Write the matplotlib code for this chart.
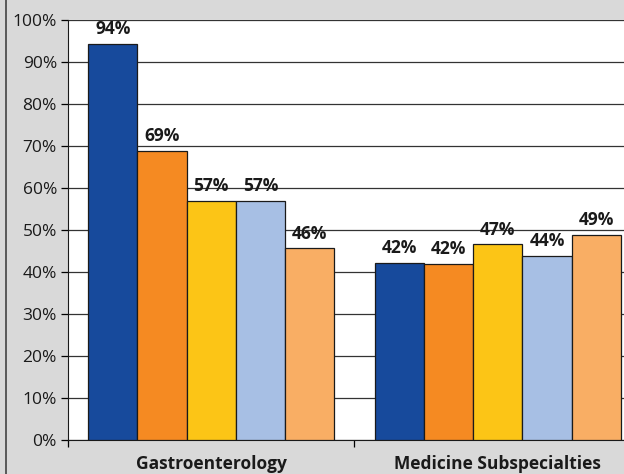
import matplotlib.pyplot as plt
from matplotlib.lines import Line2D
import numpy as np

plt.rcParams['font.family'] = ['Open Sans', 'DejaVu Sans']

categories = ['Gastroenterology', 'Medicine Subspecialties']
s1 = [94.3, 42.2]
s2 = [68.9, 42.0]
s3 = [57.0, 46.6]
s4 = [57.0, 43.9]
s5 = [45.7, 48.9]
colors = ['#174a9c', '#f58a22', '#fcc516', '#a7bfe4', '#f9ae64']
yticks = np.arange(0, 101, 10)

fig = plt.figure(figsize=(6.24, 4.74), dpi=100, facecolor='#d9d9d9')
ax = fig.add_axes([68 / 624, 34 / 474, 573 / 624, 420 / 474])
ax.set_facecolor('white')

x = np.arange(len(categories))
w = 0.172
for i, (vals, c) in enumerate(zip([s1, s2, s3, s4, s5], colors)):
    bars = ax.bar(x + (i - 2) * w, vals, w, color=c, edgecolor='#1a1a1a',
                  linewidth=0.9, zorder=3)
    for b, v in zip(bars, vals):
        ax.annotate(f'{v:.0f}%', (b.get_x() + b.get_width() / 2, v),
                    xytext=(0, 4), textcoords='offset points',
                    ha='center', va='bottom', fontsize=12.5, fontweight='bold',
                    color='#1a1a1a')

ax.set_xlim(-0.5, 1.5)
ax.set_ylim(0, 100)
ax.set_yticks(yticks)
ax.set_yticklabels([f'{t}%' for t in yticks], fontsize=12.5, color='#1a1a1a')
ax.yaxis.grid(True, color='#333333', linewidth=0.9, zorder=0)

# category labels sit between the boundary ticks
ax.set_xticks([-0.5, 0.5, 1.5])
ax.set_xticklabels([])
ax.set_xticks(x, minor=True)
ax.set_xticklabels(categories, minor=True, fontsize=12.5, fontweight='bold',
                   color='#1a1a1a')
ax.tick_params(axis='x', which='minor', length=0, pad=11)
ax.tick_params(axis='x', which='major', length=5, width=0.9)
ax.tick_params(axis='y', length=5, width=0.9, pad=3)

for s in ['top', 'right']:
    ax.spines[s].set_visible(False)
ax.spines['left'].set_color('#1a1a1a')
ax.spines['bottom'].set_color('#1a1a1a')

fig.add_artist(Line2D([6 / 624, 6 / 624], [0, 1], color='#444444',
                      linewidth=1.2, transform=fig.transFigure))

fig.savefig('out.png', dpi=100, facecolor=fig.get_facecolor())
